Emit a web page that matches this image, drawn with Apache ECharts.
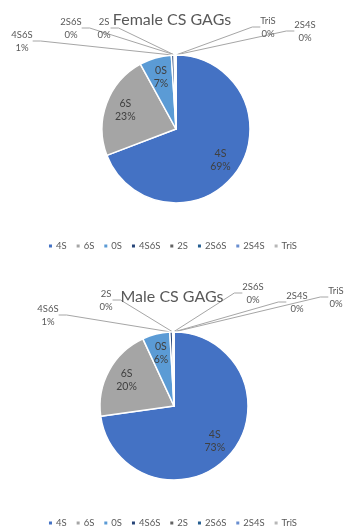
<!DOCTYPE html>
<html>
<head>
<meta charset="utf-8">
<script src="https://cdn.jsdelivr.net/npm/echarts@6/dist/echarts.min.js"></script>
<style>
  html, body { margin: 0; padding: 0; background: #ffffff; }
  #chart { width: 344px; height: 527px; }
</style>
</head>
<body>
<div id="chart"></div>
<script>
// Sulfation classes of chondroitin sulfate disaccharides
const categories = ['4S', '6S', '0S', '4S6S', '2S', '2S6S', '2S4S', 'TriS'];
// Relative abundance (%) per class
const femaleValues = [69.2, 22.8, 7.0, 0.6, 0.15, 0.1, 0.1, 0.05];
const maleValues = [72.8, 20.3, 6.0, 0.6, 0.1, 0.1, 0.05, 0.05];
const titles = ['Female CS GAGs', 'Male CS GAGs'];

const colors = ['#4472C4', '#A5A5A5', '#5B9BD5', '#264478', '#636363', '#255E91', '#698ED0', '#B7B7B7'];
const FONT = 'Lato, "Liberation Sans", sans-serif';

// Geometry of the two pies
const pies = [
  { values: femaleValues, cx: 176, cy: 129, r: 74, titleTop: 7, legendTop: 236,
    // callout label centres for the tiny slices
    callouts: { 3: [22, 41], 4: [104, 28], 5: [71, 28], 6: [305, 31], 7: [268, 27] } },
  { values: maleValues, cx: 174, cy: 406, r: 74, titleTop: 284, legendTop: 513,
    callouts: { 3: [48, 315], 4: [106, 300], 5: [253, 293], 6: [297, 302], 7: [336, 297] } }
];
const insideCount = 3;   // 4S, 6S, 0S carry their labels inside
const insideRatio = 0.73;

function pct(values, i) {
  const total = values.reduce((a, b) => a + b, 0);
  return Math.round(values[i] / total * 100) + '%';
}

function midAngle(values, i) {
  const total = values.reduce((a, b) => a + b, 0);
  let start = 0;
  for (let k = 0; k < i; k++) start += values[k];
  return (start + values[i] / 2) / total * Math.PI * 2;  // clockwise from 12 o'clock
}

const series = pies.map((p, si) => ({
  type: 'pie',
  center: [p.cx, p.cy],
  radius: p.r,
  startAngle: 90,
  clockwise: true,
  avoidLabelOverlap: false,
  animation: false,
  itemStyle: { borderColor: '#ffffff', borderWidth: 1.5 },
  label: {
    formatter: (d) => d.name + '\n' + pct(p.values, d.dataIndex),
    fontFamily: FONT,
    fontSize: 9.5,
    lineHeight: 13,
    color: '#595959',
    align: 'center'
  },
  labelLine: {
    show: true,
    length: 10,
    length2: 8,
    lineStyle: { color: '#A6A6A6', width: 1 }
  },
  labelLayout: (params) => {
    const i = params.dataIndex;
    if (i < insideCount) {
      const a = midAngle(p.values, i);
      return {
        x: p.cx + insideRatio * p.r * Math.sin(a),
        y: p.cy - insideRatio * p.r * Math.cos(a),
        align: 'center',
        verticalAlign: 'middle'
      };
    }
    const c = p.callouts[i];
    return { x: c[0], y: c[1], align: 'center', verticalAlign: 'middle', hideOverlap: false };
  },
  data: categories.map((name, i) => {
    const item = { name: name, value: p.values[i] };
    if (i < insideCount) {
      item.label = { position: 'inside', color: '#404040', fontSize: 10.5, lineHeight: 13 };
      item.labelLine = { show: false };
    } else {
      item.label = { position: 'outside' };
    }
    return item;
  })
}));

const chart = echarts.init(document.getElementById('chart'), null, { renderer: 'canvas' });
chart.setOption({
  backgroundColor: '#ffffff',
  color: colors,
  title: pies.map((p, i) => ({
    text: titles[i],
    left: 'center',
    top: p.titleTop,
    textStyle: { fontFamily: FONT, fontSize: 16, fontWeight: 'normal', color: '#595959' }
  })),
  legend: pies.map((p) => ({
    data: categories,
    left: 'center',
    top: p.legendTop,
    icon: 'rect',
    itemWidth: 5,
    itemHeight: 5,
    itemGap: 8,
    selectedMode: false,
    textStyle: { fontFamily: FONT, fontSize: 9.5, color: '#595959', padding: [0, 0, 0, -2] }
  })),
  series: series
});
</script>
</body>
</html>
